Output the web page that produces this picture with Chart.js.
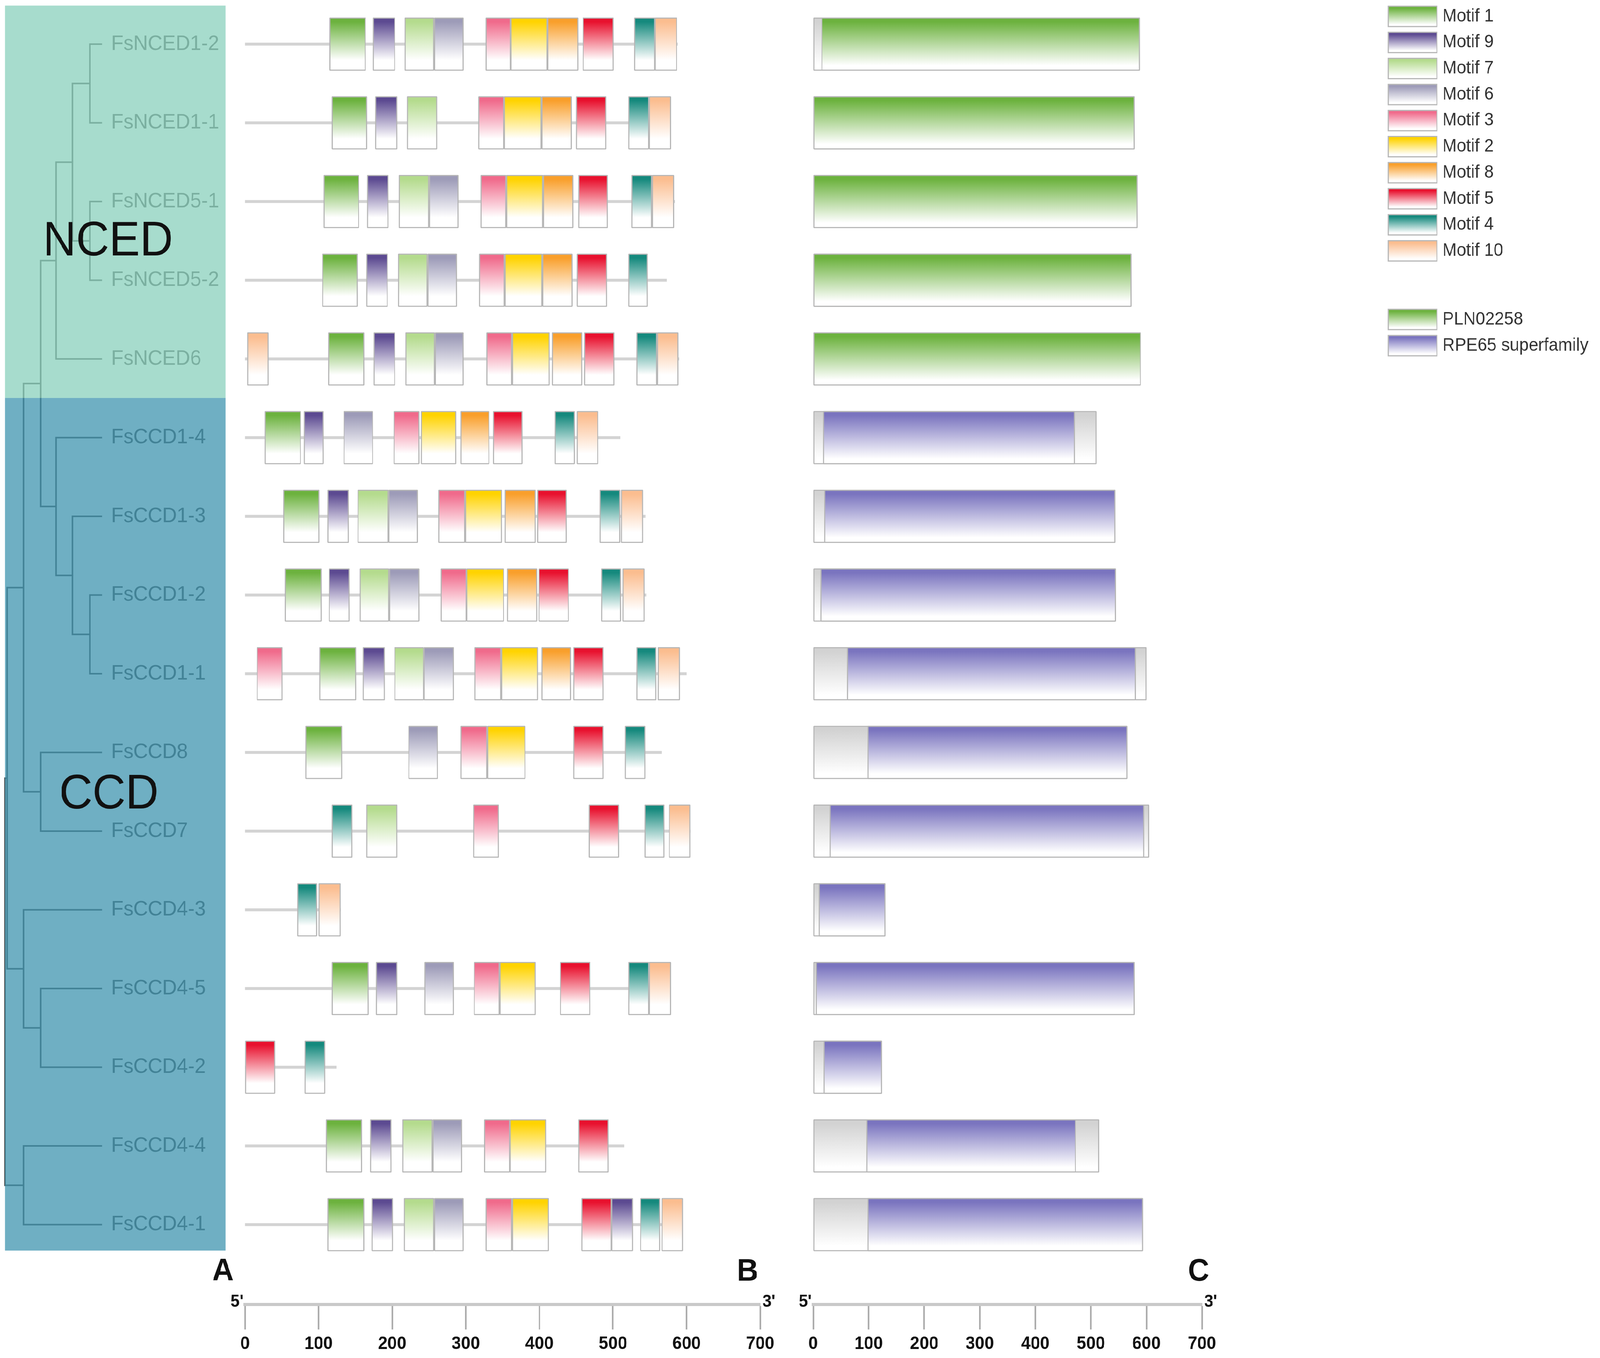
<!DOCTYPE html>
<html>
<head>
<meta charset="utf-8">
<script src="https://cdn.jsdelivr.net/npm/chart.js@4.4.1/dist/chart.umd.min.js"></script>
<style>
  html, body { margin: 0; padding: 0; background: #fff; overflow: hidden; }
  #fig { position: relative; width: 4317px; height: 3477px; overflow: hidden; transform-origin: 0 0; }
  #fig canvas { position: absolute; top: 0; }
</style>
</head>
<body>
<div id="fig">
  <canvas id="tree" width="660" height="3340" style="left:0px"></canvas>
  <canvas id="motifs" width="1600" height="3477" style="left:560px"></canvas>
  <canvas id="domains" width="2197" height="3477" style="left:2120px"></canvas>
</div>
<script>
const genes = [
  "FsNCED1-2", "FsNCED1-1", "FsNCED5-1", "FsNCED5-2", "FsNCED6",
  "FsCCD1-4", "FsCCD1-3", "FsCCD1-2", "FsCCD1-1", "FsCCD8", "FsCCD7",
  "FsCCD4-3", "FsCCD4-5", "FsCCD4-2", "FsCCD4-4", "FsCCD4-1",
];
const proteinLength = [588, 579, 584, 573, 590, 510, 544, 545, 600, 566, 605, 130, 579, 124, 515, 594];

// legend order of the motifs and their colours
const motifOrder = [1, 9, 7, 6, 3, 2, 8, 5, 4, 10];
const motifColors = ["#6cb23e", "#5c4a91", "#b4db8d", "#9d9bb8", "#f06a8b", "#ffd300", "#f99f2b", "#e8112e", "#15897d", "#fbbd8f"];

// [motif, start, end] for each gene, same order as genes
const motifSites = [
  [[1,115,164],[9,174,204],[7,217,257],[6,257,297],[3,327,361],[2,361,411],[8,411,453],[5,459,501],[4,529,557],[10,557,587]],
  [[1,118,166],[9,177,207],[7,220,261],[3,317,352],[2,352,403],[8,403,444],[5,450,491],[4,521,549],[10,549,579]],
  [[1,107,155],[9,166,195],[7,209,250],[6,250,290],[3,320,355],[2,355,405],[8,405,446],[5,453,493],[4,525,553],[10,553,583]],
  [[1,105,153],[9,165,194],[7,208,248],[6,248,288],[3,318,353],[2,353,404],[8,404,445],[5,451,492],[4,521,547]],
  [[10,3,32],[1,113,162],[9,175,204],[7,218,258],[6,258,297],[3,328,363],[2,363,414],[8,417,458],[5,461,502],[4,532,560],[10,560,589]],
  [[1,27,76],[9,80,107],[6,134,174],[3,202,237],[2,239,287],[8,293,332],[5,337,377],[4,421,448],[10,451,480]],
  [[1,52,101],[9,112,141],[7,153,195],[6,195,235],[3,263,299],[2,299,349],[8,353,395],[5,397,437],[4,482,510],[10,511,541]],
  [[1,54,104],[9,114,142],[7,156,196],[6,196,237],[3,266,301],[2,301,352],[8,356,397],[5,399,440],[4,484,511],[10,513,543]],
  [[3,16,51],[1,101,151],[9,160,190],[7,203,243],[6,243,284],[3,312,348],[2,348,398],[8,403,443],[5,446,487],[4,532,559],[10,561,591]],
  [[1,82,132],[6,222,262],[3,293,329],[2,329,381],[5,446,487],[4,516,544]],
  [[4,118,146],[7,165,207],[3,310,345],[5,467,508],[4,543,570],[10,576,605]],
  [[4,71,98],[10,100,130]],
  [[1,118,168],[9,178,207],[6,244,284],[3,311,346],[2,346,395],[5,428,469],[4,521,549],[10,549,579]],
  [[5,0,41],[4,81,109]],
  [[1,110,159],[9,170,199],[7,214,255],[6,255,295],[3,325,360],[2,360,409],[5,453,494]],
  [[1,112,162],[9,172,201],[7,216,257],[6,257,297],[3,327,363],[2,363,413],[5,457,498],[9,498,527],[4,537,564],[10,566,595]],
];

// conserved domains
const domainNames = ["PLN02258", "RPE65 superfamily"];
const domainColors = ["#6cb23e", "#7a74bf"];
const domainOf = [0, 0, 0, 0, 0, 1, 1, 1, 1, 1, 1, 1, 1, 1, 1, 1];
const domainStart = [15, 1, 1, 1, 1, 18, 20, 13, 61, 98, 30, 10, 5, 19, 96, 98];
const domainEnd = [588, 579, 584, 573, 590, 471, 544, 545, 581, 566, 596, 130, 579, 124, 473, 594];

const axisTicks = [0, 100, 200, 300, 400, 500, 600, 700];

// tree: [node, child A, child B, branch depth], children first
const leafDepth = 95;
const treeNodes = [
  ["nced1", "FsNCED1-2", "FsNCED1-1", 83],
  ["nced5", "FsNCED5-1", "FsNCED5-2", 83],
  ["nced15", "nced1", "nced5", 66],
  ["nced", "nced15", "FsNCED6", 50],
  ["ccd12", "FsCCD1-2", "FsCCD1-1", 83],
  ["ccd13", "FsCCD1-3", "ccd12", 66],
  ["ccd1", "FsCCD1-4", "ccd13", 50],
  ["ncedCcd1", "nced", "ccd1", 35],
  ["ccd78", "FsCCD8", "FsCCD7", 35],
  ["cladeA", "ncedCcd1", "ccd78", 18],
  ["ccd452", "FsCCD4-5", "FsCCD4-2", 35],
  ["ccd4a", "FsCCD4-3", "ccd452", 18],
  ["ccd41", "FsCCD4-4", "FsCCD4-1", 18],
  ["inner", "cladeA", "ccd4a", 2],
  ["root", "inner", "ccd41", 0],
];

const FONT = "'Liberation Sans', Arial, sans-serif";
const BOX_H = 136;
Chart.defaults.font.family = FONT;

// the figure is laid out at 4317 x 3477; stretch it to whatever the window really is
function fitToWindow() {
  const sx = window.innerWidth / 4317;
  const sy = window.innerHeight / 3477;
  document.getElementById("fig").style.transform = "scale(" + sx + "," + sy + ")";
}
fitToWindow();

const rowScale = () => ({ type: "linear", reverse: true, min: -0.561, max: 16.015, display: false, offset: false, grid: { offset: false } });

function boxFill(color, fadeAt) {
  return function (ctx) {
    const chart = ctx.chart;
    if (!chart.chartArea || !ctx.raw) return color;
    const yc = chart.scales.y.getPixelForValue(ctx.raw.y);
    const g = chart.ctx.createLinearGradient(0, yc - BOX_H / 2, 0, yc + BOX_H / 2);
    g.addColorStop(0, color);
    g.addColorStop(0.08, color);
    g.addColorStop(fadeAt, "#ffffff");
    g.addColorStop(1, "#ffffff");
    return g;
  };
}

function rulerAxis() {
  return {
    type: "linear",
    position: "bottom",
    min: axisTicks[0],
    max: axisTicks[axisTicks.length - 1],
    afterBuildTicks: (s) => { s.ticks = axisTicks.map((v) => ({ value: v })); },
    afterFit: (s) => { s.height = 130; s.paddingLeft = 0; s.paddingRight = 0; },
    grid: { drawOnChartArea: false, drawTicks: true, tickLength: 64, tickColor: "#a8a8a8", tickWidth: 4 },
    border: { display: true, color: "#c9c9c9", width: 8 },
    ticks: { autoSkip: false, maxRotation: 0, padding: 10, color: "#111", font: { size: 46, weight: "bold" } },
  };
}

function endLabels(letter, letterValue) {
  return {
    id: "endLabels",
    afterDraw(chart) {
      const { ctx, chartArea, scales: { x } } = chart;
      ctx.save();
      ctx.fillStyle = "#111";
      ctx.font = "bold 44px " + FONT;
      ctx.textBaseline = "alphabetic";
      ctx.textAlign = "right";
      ctx.fillText("5'", chartArea.left - 4, chartArea.bottom + 6);
      ctx.textAlign = "left";
      ctx.fillText("3'", chartArea.right + 6, chartArea.bottom + 6);
      ctx.font = "bold 80px " + FONT;
      ctx.textAlign = "center";
      ctx.textBaseline = "middle";
      ctx.fillText(letter, x.getPixelForValue(letterValue), chartArea.bottom - 83);
      ctx.restore();
    },
  };
}

const baseOptions = {
  responsive: false,
  animation: false,
  devicePixelRatio: 1,
  indexAxis: "y",
  events: [],
  plugins: { legend: { display: false }, tooltip: { enabled: false } },
};

// ---------- tree ----------
const nodeDepth = {};
const nodeRow = {};
genes.forEach((g, i) => { nodeDepth[g] = leafDepth; nodeRow[g] = i; });
const branchPoints = [];
treeNodes.forEach(([id, a, b, d]) => {
  nodeDepth[id] = d;
  nodeRow[id] = (nodeRow[a] + nodeRow[b]) / 2;
  branchPoints.push(
    { x: nodeDepth[a], y: nodeRow[a] },
    { x: d, y: nodeRow[a] },
    { x: d, y: nodeRow[b] },
    { x: nodeDepth[b], y: nodeRow[b] },
    { x: NaN, y: NaN }
  );
});

const treeDecor = {
  id: "treeDecor",
  afterDatasetsDraw(chart) {
    const { ctx, scales: { x, y } } = chart;
    ctx.save();
    ctx.font = "54px " + FONT;
    ctx.fillStyle = "#4d4d4d";
    ctx.textBaseline = "middle";
    ctx.textAlign = "left";
    genes.forEach((g, i) => ctx.fillText(g, x.getPixelForValue(104), y.getPixelForValue(i)));
    const left = x.getPixelForValue(0);
    const right = x.getPixelForValue(216);
    const top = y.getPixelForValue(-0.49);
    const mid = y.getPixelForValue(4.496);
    const bottom = y.getPixelForValue(15.33);
    ctx.fillStyle = "rgba(138,208,188,0.75)";
    ctx.fillRect(left, top, right - left, mid - top);
    ctx.fillStyle = "rgba(63,148,175,0.75)";
    ctx.fillRect(left, mid, right - left, bottom - mid);
    ctx.fillStyle = "#111";
    ctx.font = "124px " + FONT;
    ctx.textBaseline = "alphabetic";
    ctx.fillText("NCED", x.getPixelForValue(37), y.getPixelForValue(2.685));
    ctx.fillText("CCD", x.getPixelForValue(53), y.getPixelForValue(9.71));
    ctx.font = "bold 80px " + FONT;
    ctx.textAlign = "center";
    ctx.textBaseline = "middle";
    ctx.fillText("A", x.getPixelForValue(213.5), y.getPixelForValue(15.6));
    ctx.restore();
  },
};

new Chart(document.getElementById("tree"), {
  type: "scatter",
  data: {
    datasets: [{
      data: branchPoints,
      showLine: true,
      spanGaps: false,
      borderColor: "#4d4d4d",
      borderWidth: 4,
      pointRadius: 0,
      tension: 0,
      borderJoinStyle: "miter",
    }],
  },
  options: {
    ...baseOptions,
    indexAxis: "x",
    layout: { padding: 0 },
    scales: {
      x: { type: "linear", min: -5, max: 234.7, display: false },
      y: rowScale(),
    },
  },
  plugins: [treeDecor],
});

// ---------- motifs ----------
const backbone = {
  label: "backbone",
  data: genes.map((g, i) => ({ x: [0, proteinLength[i]], y: i })),
  backgroundColor: "#d3d3d3",
  borderWidth: 0,
  barThickness: 7,
  grouped: false,
  order: 2,
};
const motifDatasets = motifOrder.map((m, k) => ({
  label: "Motif " + m,
  data: motifSites.flatMap((sites, i) =>
    sites.filter((s) => s[0] === m).map((s) => ({ x: [s[1], s[2]], y: i }))
  ),
  backgroundColor: boxFill(motifColors[k], 0.8),
  borderColor: "#b6b6b6",
  borderWidth: 3,
  borderSkipped: false,
  borderRadius: 2,
  barThickness: BOX_H,
  grouped: false,
  order: 1,
}));

new Chart(document.getElementById("motifs"), {
  type: "bar",
  data: { datasets: [backbone, ...motifDatasets] },
  options: {
    ...baseOptions,
    layout: { padding: { left: 101, right: 109, top: 0, bottom: 7 } },
    scales: { x: rulerAxis(), y: rowScale() },
  },
  plugins: [endLabels("B", 683)],
});

// ---------- domains ----------
const proteinBoxes = {
  label: "protein",
  data: genes.map((g, i) => ({ x: [0, proteinLength[i]], y: i })),
  backgroundColor: boxFill("#d2d2d2", 0.9),
  borderColor: "#b6b6b6",
  borderWidth: 3,
  borderSkipped: false,
  borderRadius: 2,
  barThickness: BOX_H,
  grouped: false,
  order: 2,
};
const domainDatasets = domainNames.map((name, k) => ({
  label: name,
  data: genes
    .map((g, i) => i)
    .filter((i) => domainOf[i] === k)
    .map((i) => ({ x: [domainStart[i], domainEnd[i]], y: i })),
  backgroundColor: boxFill(domainColors[k], 0.9),
  borderColor: "#b6b6b6",
  borderWidth: 3,
  borderSkipped: false,
  borderRadius: 2,
  barThickness: BOX_H,
  grouped: false,
  order: 1,
}));

const sideLegend = {
  id: "sideLegend",
  afterDraw(chart) {
    const { ctx } = chart;
    const items = motifOrder.map((m, k) => ({ text: "Motif " + m, color: motifColors[k], y: 42 + 66.7 * k }))
      .concat(domainNames.map((n, k) => ({ text: n, color: domainColors[k], y: 818 + 67 * k })));
    ctx.save();
    items.forEach((it) => {
      const x0 = 1626, w = 131, h = 52, y0 = it.y - h / 2;
      const g = ctx.createLinearGradient(0, y0, 0, y0 + h);
      g.addColorStop(0, it.color);
      g.addColorStop(0.1, it.color);
      g.addColorStop(0.9, "#ffffff");
      g.addColorStop(1, "#ffffff");
      ctx.fillStyle = g;
      ctx.fillRect(x0, y0, w, h);
      ctx.strokeStyle = "#b6b6b6";
      ctx.lineWidth = 3;
      ctx.strokeRect(x0, y0, w, h);
      ctx.fillStyle = "#333";
      ctx.font = "46px " + FONT;
      ctx.textAlign = "left";
      ctx.textBaseline = "middle";
      ctx.fillText(it.text, 1772, it.y);
    });
    ctx.restore();
  },
};

new Chart(document.getElementById("domains"), {
  type: "bar",
  data: { datasets: [proteinBoxes, ...domainDatasets] },
  options: {
    ...baseOptions,
    layout: { padding: { left: 74, right: 1074, top: 0, bottom: 7 } },
    scales: { x: rulerAxis(), y: rowScale() },
  },
  plugins: [endLabels("C", 694), sideLegend],
});
</script>
</body>
</html>
